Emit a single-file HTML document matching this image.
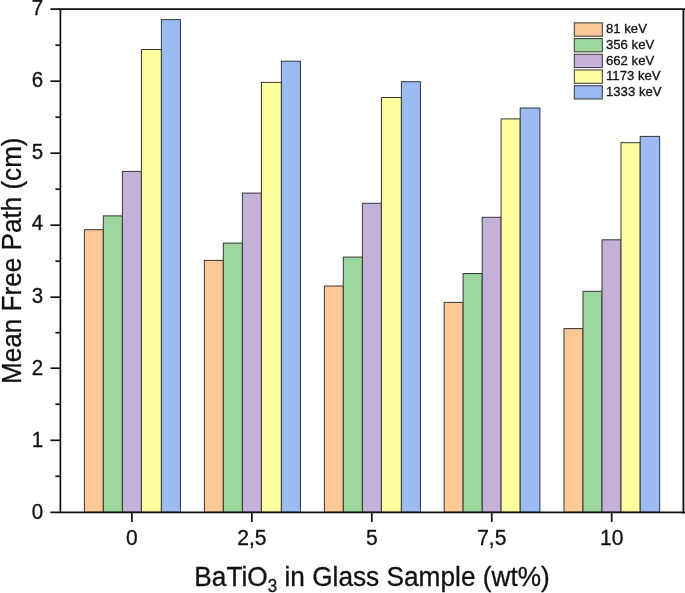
<!DOCTYPE html>
<html><head><meta charset="utf-8"><title>chart</title>
<style>
html,body{margin:0;padding:0;background:#fff;}
body{width:685px;height:593px;overflow:hidden;font-family:"Liberation Sans",sans-serif;}
svg{display:block;}
text{font-family:"Liberation Sans",sans-serif;fill:#111;stroke:#111;stroke-width:0.3px;filter:grayscale(1);}
</style></head><body>
<svg width="685" height="593" viewBox="0 0 685 593">
<rect x="0" y="0" width="685" height="593" fill="#ffffff"/>

<rect x="684.3" y="9.2" width="0.7" height="503.09999999999997" fill="#c4c4c4"/>
<g stroke="#363636" stroke-width="1">
<rect x="84.40" y="229.70" width="18.90" height="282.60" fill="#FBC896"/>
<rect x="103.30" y="215.90" width="19.10" height="296.40" fill="#9DD79D"/>
<rect x="122.40" y="171.40" width="19.00" height="340.90" fill="#C3B1D7"/>
<rect x="141.40" y="49.50" width="20.00" height="462.80" fill="#FFFF9F"/>
<rect x="161.40" y="19.60" width="19.00" height="492.70" fill="#9BBBF3"/>
<rect x="204.40" y="260.40" width="18.90" height="251.90" fill="#FBC896"/>
<rect x="223.30" y="243.10" width="19.10" height="269.20" fill="#9DD79D"/>
<rect x="242.40" y="193.10" width="19.00" height="319.20" fill="#C3B1D7"/>
<rect x="261.40" y="82.40" width="20.00" height="429.90" fill="#FFFF9F"/>
<rect x="281.40" y="61.20" width="19.00" height="451.10" fill="#9BBBF3"/>
<rect x="324.40" y="286.00" width="18.90" height="226.30" fill="#FBC896"/>
<rect x="343.30" y="257.10" width="19.10" height="255.20" fill="#9DD79D"/>
<rect x="362.40" y="203.30" width="19.00" height="309.00" fill="#C3B1D7"/>
<rect x="381.40" y="97.50" width="20.00" height="414.80" fill="#FFFF9F"/>
<rect x="401.40" y="81.70" width="19.00" height="430.60" fill="#9BBBF3"/>
<rect x="444.20" y="302.40" width="18.90" height="209.90" fill="#FBC896"/>
<rect x="463.10" y="273.50" width="19.10" height="238.80" fill="#9DD79D"/>
<rect x="482.20" y="217.30" width="18.90" height="295.00" fill="#C3B1D7"/>
<rect x="501.10" y="118.90" width="19.10" height="393.40" fill="#FFFF9F"/>
<rect x="520.20" y="108.00" width="19.70" height="404.30" fill="#9BBBF3"/>
<rect x="564.00" y="328.60" width="19.00" height="183.70" fill="#FBC896"/>
<rect x="583.00" y="291.30" width="19.00" height="221.00" fill="#9DD79D"/>
<rect x="602.00" y="239.80" width="19.00" height="272.50" fill="#C3B1D7"/>
<rect x="621.00" y="142.70" width="19.20" height="369.60" fill="#FFFF9F"/>
<rect x="640.20" y="136.40" width="19.50" height="375.90" fill="#9BBBF3"/>
</g>
<g stroke="#111" stroke-width="1.7" fill="none">
<path d="M50.4 9.2 H685"/>
<path d="M50.4 512.3 H685"/>
<path d="M683.35 9.2 V513.8"/>
<path d="M60.4 9.2 V513.0999999999999"/>
<path d="M50.4 440.30 H60.4"/>
<path d="M50.4 368.20 H60.4"/>
<path d="M50.4 297.20 H60.4"/>
<path d="M50.4 225.20 H60.4"/>
<path d="M50.4 153.20 H60.4"/>
<path d="M50.4 81.20 H60.4"/>
<path d="M55.4 476.30 H60.4"/>
<path d="M55.4 404.25 H60.4"/>
<path d="M55.4 332.70 H60.4"/>
<path d="M55.4 261.20 H60.4"/>
<path d="M55.4 189.20 H60.4"/>
<path d="M55.4 117.20 H60.4"/>
<path d="M55.4 45.20 H60.4"/>
<path d="M131.90 512.3 V521.9"/>
<path d="M251.85 512.3 V521.9"/>
<path d="M371.80 512.3 V521.9"/>
<path d="M491.75 512.3 V521.9"/>
<path d="M611.70 512.3 V521.9"/>
</g>
<g font-size="20.5" text-anchor="end">
<text transform="translate(43.2,518.50) scale(1,1.10)">0</text>
<text transform="translate(43.2,446.50) scale(1,1.10)">1</text>
<text transform="translate(43.2,374.50) scale(1,1.10)">2</text>
<text transform="translate(43.2,302.50) scale(1,1.10)">3</text>
<text transform="translate(43.2,230.40) scale(1,1.10)">4</text>
<text transform="translate(43.2,159.20) scale(1,1.10)">5</text>
<text transform="translate(43.2,87.20) scale(1,1.10)">6</text>
<text transform="translate(43.2,15.20) scale(1,1.10)">7</text>
</g>
<g font-size="21" text-anchor="middle">
<text transform="translate(131.90,545.2) scale(1,1.05)">0</text>
<text transform="translate(251.85,545.2) scale(1,1.05)">2,5</text>
<text transform="translate(371.80,545.2) scale(1,1.05)">5</text>
<text transform="translate(491.75,545.2) scale(1,1.05)">7,5</text>
<text transform="translate(611.70,545.2) scale(1,1.05)">10</text>
</g>
<text id="xt" transform="translate(194.3,585.5) scale(1,1.035)" font-size="26.25">BaTiO<tspan font-size="17" dy="6">3</tspan><tspan dy="-6"> in Glass Sample (wt%)</tspan></text>
<text id="yt" transform="translate(20.8,383.9) rotate(-90) scale(1,1.035)" font-size="26.1">Mean Free Path (cm)</text>
<g stroke="#363636" stroke-width="1">
<rect x="574.3" y="22.90" width="28" height="13.3" fill="#FBC896"/>
<rect x="574.3" y="38.60" width="28" height="13.3" fill="#9DD79D"/>
<rect x="574.3" y="54.30" width="28" height="13.3" fill="#C3B1D7"/>
<rect x="574.3" y="70.00" width="28" height="13.3" fill="#FFFF9F"/>
<rect x="574.3" y="85.70" width="28" height="13.3" fill="#9BBBF3"/>
</g>
<g font-size="13.15">
<text transform="translate(606.0,33.30) scale(1,1.04)">81 keV</text>
<text transform="translate(606.0,49.00) scale(1,1.04)">356 keV</text>
<text transform="translate(606.0,64.70) scale(1,1.04)">662 keV</text>
<text transform="translate(606.0,80.40) scale(1,1.04)">1173 keV</text>
<text transform="translate(606.0,96.10) scale(1,1.04)">1333 keV</text>
</g>
</svg></body></html>
